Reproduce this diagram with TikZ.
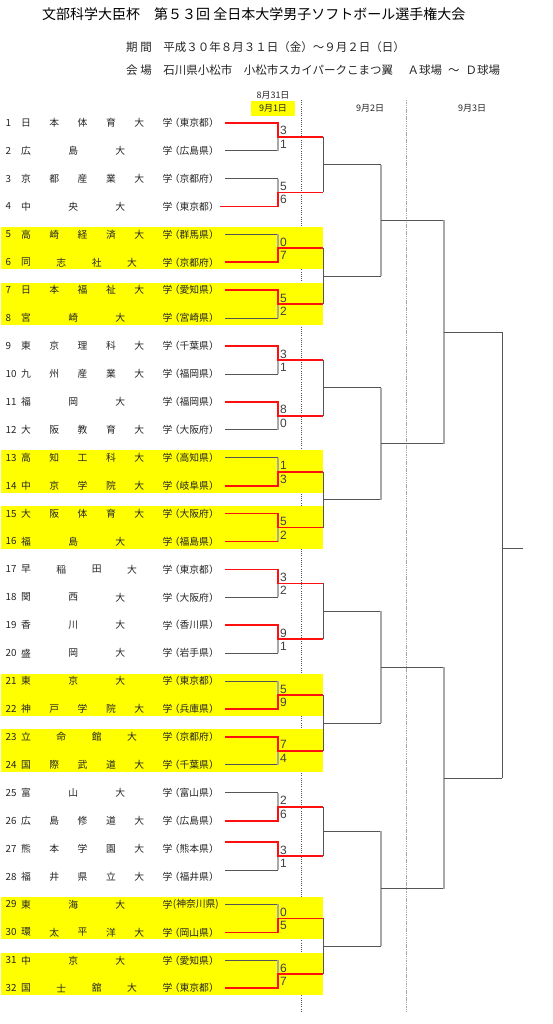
\documentclass[tikz,border=0pt]{standalone}
\usepackage{fontspec}
\setmainfont{Noto Sans CJK JP}
\newfontfamily\scorefont{Liberation Sans}
\usetikzlibrary{calc}
\definecolor{hl}{HTML}{FFFF00}
\definecolor{lnA}{HTML}{555555}
\definecolor{lnB}{HTML}{A8A8A8}
\definecolor{win}{HTML}{FF1010}
\definecolor{txtc}{HTML}{262626}
\tikzset{
  txt/.style={inner sep=0pt, font=\fontsize{9.8}{9.8}\selectfont, text=txtc},
  hdr/.style={inner sep=0pt, font=\fontsize{9}{9}\selectfont, text=txtc},
  score/.style={inner sep=0pt, anchor=base west, font=\scorefont\fontsize{12}{12}\selectfont, text=black!75},
  lose/.style={draw=lnA, line width=0.8pt},
  vlight/.style={draw=lnB, line width=1.4pt},
  wline/.style={draw=win, line width=1.7pt},
  dark/.style={draw=lnA, line width=0.9pt},
}
\newcommand\teamrow[4]{%
  \pgfmathsetmacro\yy{122.7+(#1-1)*27.92}%
  \node[txt,anchor=west] (n#1) at (5.5,\yy) {#1};
  \foreach \ch [count=\k] in {#3} {
    \pgfmathsetmacro\xx{26+(\k-1)*141.5/(#2-1)}
    \node[txt] (c#1-\k) at (\xx,\yy) {\ch};
  }
  \node[txt,anchor=east] (p#1) at (219,\yy) {#4};
}
% #1 pair, #2 winner (1/2), #3 score a, #4 score b, #5 line offset
\newcommand\pairm[5]{%
  \pgfmathsetmacro\ya{122.7+(2*#1-2)*27.92+#5}%
  \pgfmathsetmacro\yb{122.7+(2*#1-1)*27.92+#5}%
  \pgfmathsetmacro\ym{(\ya+\yb)/2}%
  \coordinate (A#1s) at (225,\ya); \coordinate (A#1e) at (278,\ya);
  \coordinate (B#1s) at (225,\yb); \coordinate (B#1e) at (278,\yb);
  \coordinate (M#1) at (278,\ym); \coordinate (R#1) at (323,\ym);
  \ifnum#2=1
    \draw[lose] (B#1s) -- (B#1e); \draw[vlight] (M#1) -- (B#1e);
    \draw[wline] (A#1s) -- (A#1e) -- (M#1) -- (R#1);
  \else
    \draw[lose] (A#1s) -- (A#1e); \draw[vlight] (M#1) -- (A#1e);
    \draw[wline] (B#1s) -- (B#1e) -- (M#1) -- (R#1);
  \fi
  \node[score] (sa#1) at (280,\ym-2) {#3};
  \node[score] (sb#1) at (280,\ym+11.5) {#4};
}
\begin{document}
\begin{tikzpicture}[x=1pt,y=-1pt]
\useasboundingbox (0,0) rectangle (553,1024);
\fill[white] (0,0) rectangle (553,1024);

% header
\node[inner sep=0pt, anchor=west, font=\fontsize{14}{14}\selectfont] (title) at (42,14)
  {文部科学大臣杯　第５３回 全日本大学男子ソフトボール選手権大会};
\node[inner sep=0pt, anchor=west, font=\fontsize{11.5}{11.5}\selectfont, text=txtc] (period) at (126,47.5)
  {期 間　平成３０年８月３１日（金）～９月２日（日）};
\node[inner sep=0pt, anchor=west, font=\fontsize{11.5}{11.5}\selectfont, text=txtc] (venue) at (126,70)
  {会 場　石川県小松市　小松市スカイパークこまつ翼　\hspace{3pt}Ａ球場\hspace{6pt}～\hspace{6pt}Ｄ球場};

% dotted day separators
\coordinate (s1t) at (301,100); \coordinate (s1b) at (301,1013);
\coordinate (s2t) at (406,100); \coordinate (s2b) at (406,1013);
\draw[lnA, line width=0.6pt, dash pattern=on 1pt off 1.2pt] (s1t) -- (s1b);
\draw[lnB, line width=0.8pt, dash pattern=on 1.5pt off 0.8pt] (s2t) -- (s2b);

% date labels
\node[hdr] (d831) at (273,95) {8月31日};
\node[hdr, fill=hl, minimum width=44pt, minimum height=15pt] (d91) at (273,108.5) {9月1日};
\node[hdr] (d92) at (370,108.5) {9月2日};
\node[hdr] (d93) at (472,108.5) {9月3日};

% yellow row blocks
\foreach \a in {5,7,13,15,21,23,29,31} {
  \fill[hl] (1,{122.7+(\a-1)*27.92-7.5}) rectangle (323,{122.7+\a*27.92+7});
}

% teams
\teamrow{1}{6}{日,本,体,育,大,学}{（東京都）}
\teamrow{2}{4}{広,島,大,学}{（広島県）}
\teamrow{3}{6}{京,都,産,業,大,学}{（京都府）}
\teamrow{4}{4}{中,央,大,学}{（東京都）}
\teamrow{5}{6}{高,崎,経,済,大,学}{（群馬県）}
\teamrow{6}{5}{同,志,社,大,学}{（京都府）}
\teamrow{7}{6}{日,本,福,祉,大,学}{（愛知県）}
\teamrow{8}{4}{宮,崎,大,学}{（宮崎県）}
\teamrow{9}{6}{東,京,理,科,大,学}{（千葉県）}
\teamrow{10}{6}{九,州,産,業,大,学}{（福岡県）}
\teamrow{11}{4}{福,岡,大,学}{（福岡県）}
\teamrow{12}{6}{大,阪,教,育,大,学}{（大阪府）}
\teamrow{13}{6}{高,知,工,科,大,学}{（高知県）}
\teamrow{14}{6}{中,京,学,院,大,学}{（岐阜県）}
\teamrow{15}{6}{大,阪,体,育,大,学}{（大阪府）}
\teamrow{16}{4}{福,島,大,学}{（福島県）}
\teamrow{17}{5}{早,稲,田,大,学}{（東京都）}
\teamrow{18}{4}{関,西,大,学}{（大阪府）}
\teamrow{19}{4}{香,川,大,学}{（香川県）}
\teamrow{20}{4}{盛,岡,大,学}{（岩手県）}
\teamrow{21}{4}{東,京,大,学}{（東京都）}
\teamrow{22}{6}{神,戸,学,院,大,学}{（兵庫県）}
\teamrow{23}{5}{立,命,館,大,学}{（京都府）}
\teamrow{24}{6}{国,際,武,道,大,学}{（千葉県）}
\teamrow{25}{4}{富,山,大,学}{（富山県）}
\teamrow{26}{6}{広,島,修,道,大,学}{（広島県）}
\teamrow{27}{6}{熊,本,学,園,大,学}{（熊本県）}
\teamrow{28}{6}{福,井,県,立,大,学}{（福井県）}
\teamrow{29}{4}{東,海,大,学}{(神奈川県)}
\teamrow{30}{6}{環,太,平,洋,大,学}{（岡山県）}
\teamrow{31}{4}{中,京,大,学}{（愛知県）}
\teamrow{32}{5}{国,士,舘,大,学}{（東京都）}

% later rounds (drawn under the red first-round lines)
\foreach \q in {1,...,8} {
  \pgfmathsetmacro\yA{122.7+(4*\q-4)*27.92}
  \pgfmathsetmacro\yB{122.7+(4*\q-1)*27.92}
  \pgfmathsetmacro\yQ{(\yA+\yB)/2-(\q==7)*3.5}
  \coordinate (QT\q) at (323,{122.7+(4*\q-3.5)*27.92});
  \coordinate (QB\q) at (323,{122.7+(4*\q-1.5)*27.92-(\q==7)*6.5});
  \coordinate (Q\q) at (323,\yQ);
  \coordinate (QE\q) at (381,\yQ);
  \draw[dark] (QT\q) -- (QB\q);
  \draw[dark] (Q\q) -- (QE\q);
}
\foreach \o/\qa/\qb in {1/1/2,2/3/4,3/5/6,4/7/8} {
  \coordinate (O\o) at ($(QE\qa)!0.5!(QE\qb)$);
  \coordinate (OE\o) at ($(O\o)+(63,0)$);
  \draw[vlight] (QE\qa) -- (QE\qb);
  \draw[dark] (O\o) -- (OE\o);
}
\foreach \h/\oa/\ob in {1/1/2,2/3/4} {
  \coordinate (H\h) at ($(OE\oa)!0.5!(OE\ob)$);
  \coordinate (HE\h) at ($(H\h)+(58,0)$);
  \draw[vlight] (OE\oa) -- (OE\ob);
  \draw[dark] (H\h) -- (HE\h);
}
\coordinate (F) at (502,548);
\coordinate (FE) at (523,548);
\draw[dark] (HE1) -- (HE2);
\draw[dark] (F) -- (FE);

% first round
\pairm{1}{1}{3}{1}{0}
\pairm{2}{2}{5}{6}{0}
\pairm{3}{2}{0}{7}{0}
\pairm{4}{1}{5}{2}{0}
\pairm{5}{1}{3}{1}{0}
\pairm{6}{1}{8}{0}{0}
\pairm{7}{2}{1}{3}{0}
\pairm{8}{1}{5}{2}{0}
\pairm{9}{1}{3}{2}{0}
\pairm{10}{1}{9}{1}{0}
\pairm{11}{2}{5}{9}{0}
\pairm{12}{1}{7}{4}{0}
\pairm{13}{2}{2}{6}{0}
\pairm{14}{1}{3}{1}{-6.5}
\pairm{15}{2}{0}{5}{0}
\pairm{16}{2}{6}{7}{0}
% quirks of the original sheet
\coordinate (B2x) at (220,{122.7+3*27.92});
\draw[wline] (B2x) -- (B2s);
\draw[wline] (B8s) -- (B8e);
\end{tikzpicture}
\end{document}
